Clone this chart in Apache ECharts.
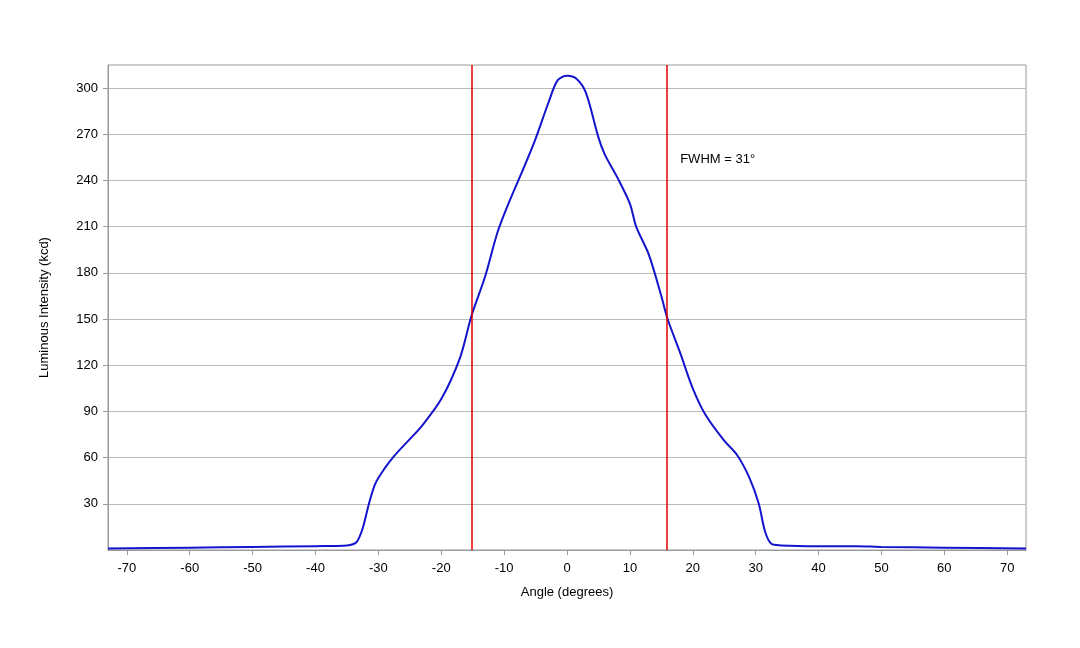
<!DOCTYPE html>
<html><head><meta charset="utf-8">
<script src="https://cdn.jsdelivr.net/npm/echarts@6/dist/echarts.min.js"></script>
<style>html,body{margin:0;padding:0;background:#fff}#c{width:1080px;height:648px}</style>
</head><body><div id="c"></div>
<script>
const angles = [-73,-60,-50,-40,-35,-33.5,-32.5,-31.5,-30.5,-29,-27.5,-25,-23,-20,-17,-15.2,-13,-11,-9,-7,-5,-3,-1.5,0,1.5,3,5,6,8,10,11,13,15,16,18,20,22,25,27,29,30.5,31.5,32.5,34,40,46,50,60,73];
const intensity = [1,1.5,2,2.5,3,5,14,30,43,53,61,72,81,98,125,152,178,207,228,247,267,290,305,308,306,297,268,257,242,225,210,192,165,150,128,105,88,71,62,47,30,12,4,3,2.5,2.5,2,1.5,1];
const yTicks = [30,60,90,120,150,180,210,240,270,300];
const xTicks = [-70,-60,-50,-40,-30,-20,-10,0,10,20,30,40,50,60,70];
const fwhmLines = [-15.2,15.8];
const chart = echarts.init(document.getElementById('c'));
const font = 'Liberation Sans, Arial, sans-serif';
chart.setOption({
  animation:false,
  grid:{left:108,right:54,top:65,bottom:98,show:true,borderColor:'#999',borderWidth:1},
  xAxis:{type:'value',min:-73,max:73,name:'Angle (degrees)',nameLocation:'middle',nameGap:36,
    nameTextStyle:{color:'#000',fontSize:13,fontFamily:font},
    axisLine:{onZero:false,lineStyle:{color:'#999'}},splitLine:{show:false},
    axisTick:{show:true,customValues:xTicks,length:5,lineStyle:{color:'#999'}},
    axisLabel:{customValues:xTicks,color:'#000',fontSize:13,fontFamily:font,margin:12}},
  yAxis:{type:'value',min:0,max:315,interval:30,name:'Luminous Intensity (kcd)',nameLocation:'middle',nameGap:57,
    nameTextStyle:{color:'#000',fontSize:13,fontFamily:font},
    axisLine:{show:true,onZero:false,lineStyle:{color:'#999'}},
    axisTick:{show:true,customValues:yTicks,length:5,lineStyle:{color:'#999'}},
    axisLabel:{customValues:yTicks,color:'#000',fontSize:13,fontFamily:font,margin:10},
    splitLine:{show:true,lineStyle:{color:'#bbb'}}},
  series:[{type:'line',data:angles.map((a,i)=>[a,intensity[i]]),smooth:0.3,showSymbol:false,
    lineStyle:{color:'#1414cc',width:2},
    markLine:{silent:true,symbol:'none',label:{show:false},lineStyle:{color:'#e00000',width:1.5,type:'solid'},
      data:fwhmLines.map(v=>({xAxis:v}))}}]
});
const p = chart.convertToPixel({gridIndex:0},[18,258]);
chart.setOption({graphic:[{type:'text',left:p[0],top:p[1],style:{text:'FWHM = 31°',fill:'#000',fontSize:13,fontFamily:font}}]});
</script></body></html>
